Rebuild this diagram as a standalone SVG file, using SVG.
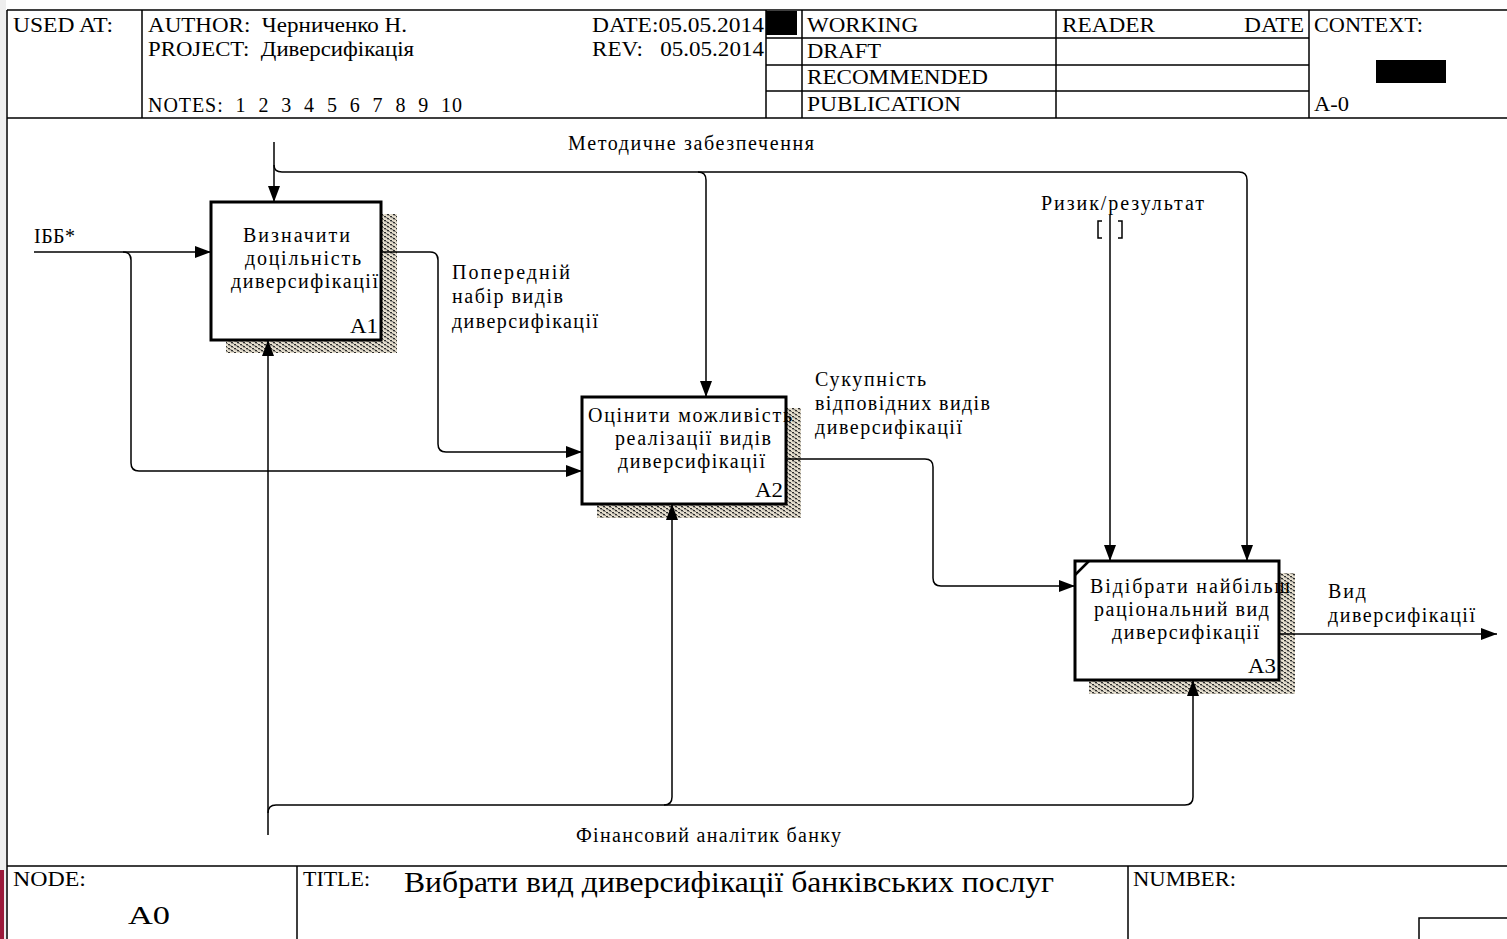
<svg xmlns="http://www.w3.org/2000/svg" width="1507" height="939" viewBox="0 0 1507 939">
<style>
text{font-family:"Liberation Serif","Times New Roman",serif;fill:#000}
.h{font-size:20px}
.t{font-size:20px}
.frame{stroke:#000;stroke-width:1.5;fill:none}
.box{fill:#fff;stroke:#000;stroke-width:3}
.c{fill:none;stroke:#000;stroke-width:1.5}
</style>
<defs>
<pattern id="sh" width="6" height="4" patternUnits="userSpaceOnUse">
<rect width="6" height="4" fill="#e6dfce"/>
<rect x="0" y="0" width="2" height="1.3" fill="#2e2e2e"/>
<rect x="1.5" y="1.2" width="2" height="1" fill="#6a6a6a"/>
<rect x="3" y="2" width="2" height="1.3" fill="#2e2e2e"/>
<rect x="4.5" y="3.2" width="2" height="0.8" fill="#6a6a6a"/>
</pattern>
<marker id="ar" markerUnits="userSpaceOnUse" markerWidth="16" markerHeight="12" refX="16" refY="6" orient="auto">
<path d="M0,0 L16,6 L0,12 z" fill="#000"/>
</marker>
</defs>
<rect width="1507" height="939" fill="#fff"/>
<rect x="0" y="0" width="6" height="939" fill="#eeeeee"/>
<rect x="0" y="870" width="4" height="69" fill="#9b1b3b"/>

<g id="header">
<path class="frame" d="M7,10 H1507 M7,118 H1507 M7,10 V939 M142,10 V118 M766,10 V118 M802,10 V118 M1056,10 V118 M1309,10 V118 M766,38 H1309 M766,65 H1309 M766,91 H1309"/>
<rect x="766" y="11" width="31" height="24" fill="#000"/>
<rect x="1376" y="60" width="70" height="23" fill="#000"/>
<text class="h" x="13" y="32" textLength="100" lengthAdjust="spacingAndGlyphs">USED AT:</text>
<text class="h" x="148" y="32" textLength="259" lengthAdjust="spacingAndGlyphs" xml:space="preserve">AUTHOR:  Черниченко Н.</text>
<text class="h" x="148" y="56" textLength="266" lengthAdjust="spacingAndGlyphs" xml:space="preserve">PROJECT:  Диверсифікація</text>
<text class="h" x="148" y="112" textLength="314" xml:space="preserve">NOTES:  1  2  3  4  5  6  7  8  9  10</text>
<text class="h" x="592" y="32" textLength="172" lengthAdjust="spacingAndGlyphs">DATE:05.05.2014</text>
<text class="h" x="592" y="56" textLength="172" lengthAdjust="spacingAndGlyphs" xml:space="preserve">REV:   05.05.2014</text>
<text class="h" x="807" y="32" textLength="111" lengthAdjust="spacingAndGlyphs">WORKING</text>
<text class="h" x="807" y="58" textLength="74" lengthAdjust="spacingAndGlyphs">DRAFT</text>
<text class="h" x="807" y="84" textLength="181" lengthAdjust="spacingAndGlyphs">RECOMMENDED</text>
<text class="h" x="807" y="111" textLength="154" lengthAdjust="spacingAndGlyphs">PUBLICATION</text>
<text class="h" x="1062" y="32" textLength="93" lengthAdjust="spacingAndGlyphs">READER</text>
<text class="h" x="1244" y="32" textLength="60" lengthAdjust="spacingAndGlyphs">DATE</text>
<text class="h" x="1314" y="32" textLength="109" lengthAdjust="spacingAndGlyphs">CONTEXT:</text>
<text class="h" x="1314" y="111" textLength="35" lengthAdjust="spacingAndGlyphs">A-0</text>
</g>

<g id="footer">
<path class="frame" d="M7,866 H1507 M297,866 V939 M1128,866 V939 M1419,939 V918 H1507"/>
<text class="h" x="13" y="886" textLength="73" lengthAdjust="spacingAndGlyphs">NODE:</text>
<text x="128" y="924" style="font-size:26px" textLength="42" lengthAdjust="spacingAndGlyphs">A0</text>
<text class="h" x="303" y="886" textLength="67" lengthAdjust="spacingAndGlyphs">TITLE:</text>
<text x="404" y="892" style="font-size:29px" textLength="650" lengthAdjust="spacingAndGlyphs">Вибрати вид диверсифікації банківських послуг</text>
<text class="h" x="1133" y="886" textLength="103" lengthAdjust="spacingAndGlyphs">NUMBER:</text>
</g>

<g id="A1">
<rect x="226" y="214" width="171" height="139" fill="url(#sh)"/>
<rect class="box" x="211" y="202" width="170" height="138"/>
<text class="t" x="243" y="242" textLength="107">Визначити</text>
<text class="t" x="245" y="265" textLength="116">доцільність</text>
<text class="t" x="231" y="288" textLength="147">диверсифікації</text>
<text class="t" x="350" y="333" textLength="28" lengthAdjust="spacingAndGlyphs">A1</text>
</g>

<g id="A2">
<rect x="597" y="408" width="204" height="110" fill="url(#sh)"/>
<rect class="box" x="582" y="397" width="204" height="107"/>
<text class="t" x="588" y="422" textLength="204">Оцінити можливість</text>
<text class="t" x="615" y="445" textLength="156">реалізації видів</text>
<text class="t" x="618" y="468" textLength="147">диверсифікації</text>
<text class="t" x="755" y="497" textLength="28" lengthAdjust="spacingAndGlyphs">A2</text>
</g>

<g id="A3">
<rect x="1089" y="573" width="206" height="121" fill="url(#sh)"/>
<rect class="box" x="1075" y="561" width="204" height="119"/>
<path d="M1075,575 L1089,561" stroke="#000" stroke-width="2.5"/>
<text class="t" x="1090" y="593" textLength="200">Відібрати найбільш</text>
<text class="t" x="1094" y="616" textLength="175">раціональний вид</text>
<text class="t" x="1112" y="639" textLength="147">диверсифікації</text>
<text class="t" x="1248" y="673" textLength="28" lengthAdjust="spacingAndGlyphs">A3</text>
</g>

<g id="connectors">
<path class="c" d="M34,252 L211,252" marker-end="url(#ar)"/>
<path class="c" d="M123,252 Q131,252 131,260 L131,463 Q131,471 139,471 L582,471" marker-end="url(#ar)"/>
<path class="c" d="M381,252 L430,252 Q438,252 438,260 L438,444 Q438,452 446,452 L582,452" marker-end="url(#ar)"/>
<path class="c" d="M274,142 L274,202" marker-end="url(#ar)"/>
<path class="c" d="M274,165 Q274,172 282,172 L1239,172 Q1247,172 1247,180 L1247,561" marker-end="url(#ar)"/>
<path class="c" d="M698,172 Q706,172 706,180 L706,397" marker-end="url(#ar)"/>
<path class="c" d="M1110,215 L1110,561" marker-end="url(#ar)"/>
<path class="c" d="M1102,221 H1098 V238 H1102 M1118,221 H1122 V238 H1118" stroke-width="1.2"/>
<path class="c" d="M786,459 L925,459 Q933,459 933,467 L933,578 Q933,586 941,586 L1075,586" marker-end="url(#ar)"/>
<path class="c" d="M1279,634 L1497,634" marker-end="url(#ar)"/>
<path class="c" d="M268,835 L268,340" marker-end="url(#ar)"/>
<path class="c" d="M268,813 Q268,805 276,805 L1185,805 Q1193,805 1193,797 L1193,680" marker-end="url(#ar)"/>
<path class="c" d="M664,805 Q672,805 672,797 L672,504" marker-end="url(#ar)"/>
<text class="t" x="34" y="243" textLength="41">ІББ*</text>
<text class="t" x="568" y="150" textLength="246">Методичне забезпечення</text>
<text class="t" x="452" y="279" textLength="118">Попередній</text>
<text class="t" x="452" y="303" textLength="111">набір видів</text>
<text class="t" x="452" y="328" textLength="146">диверсифікації</text>
<text class="t" x="815" y="386" textLength="111">Сукупність</text>
<text class="t" x="815" y="410" textLength="175">відповідних видів</text>
<text class="t" x="815" y="434" textLength="147">диверсифікації</text>
<text class="t" x="1041" y="210" textLength="163">Ризик/результат</text>
<text class="t" x="1328" y="598" textLength="38">Вид</text>
<text class="t" x="1328" y="622" textLength="147">диверсифікації</text>
<text class="t" x="576" y="842" textLength="265">Фінансовий аналітик банку</text>
</g>
</svg>
